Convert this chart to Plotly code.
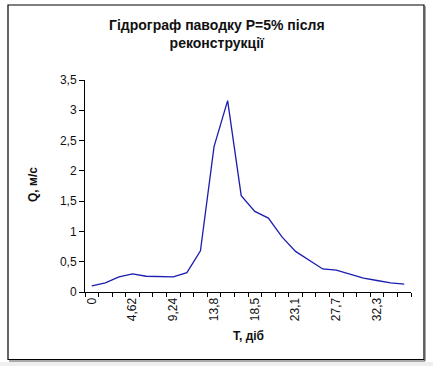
import plotly.graph_objects as go

# Data
days = [0, 1.54, 3.08, 4.62, 6.16, 7.70, 9.24, 10.78, 12.32, 13.86, 15.40, 16.94,
        18.48, 20.02, 21.56, 23.10, 24.64, 26.18, 27.72, 29.26, 30.80, 32.34, 33.88, 35.42]
q_values = [0.10, 0.15, 0.25, 0.30, 0.26, 0.25, 0.25, 0.32, 0.68, 2.40, 3.16, 1.59,
            1.33, 1.22, 0.91, 0.67, 0.52, 0.38, 0.36, 0.29, 0.23, 0.19, 0.15, 0.13]
tick_labels = ["0", "4,62", "9,24", "13,8", "18,5", "23,1", "27,7", "32,3"]
label_every = 3

title_text = "Гідрограф паводку Р=5% після<br>реконструкції"
x_title = "T, діб"
y_title = "Q, м/с"

W, H = 433, 366
L, R, T, B = 85, 411, 80, 292  # plot area pixel bounds

def px(x):
    return (x - L) / (R - L)

def py(y):
    return (B - y) / (B - T)

n = len(days)
idx = list(range(n))

fig = go.Figure()
fig.add_trace(go.Scatter(
    x=idx, y=q_values, mode="lines",
    line=dict(color="#1c1cb0", width=1.3),
    hoverinfo="x+y", showlegend=False,
))

font = "Liberation Sans, Arial, sans-serif"

fig.update_layout(
    width=W, height=H,
    margin=dict(l=L, r=W - R, t=T, b=H - B, pad=0),
    paper_bgcolor="white",
    plot_bgcolor="white",
    separators=", ",
    font=dict(family=font, size=12, color="#111"),
    xaxis=dict(
        range=[-0.5, n - 0.5],
        tickmode="array",
        tickvals=idx[::label_every],
        ticktext=tick_labels,
        ticks="",
        tickangle=-90,
        showgrid=False, zeroline=False,
        showline=True, linecolor="black", linewidth=1,
        tickfont=dict(size=12, family=font, color="#111"),
        minor=dict(tickmode="array", tickvals=[i - 0.5 for i in range(n + 1)],
                   ticks="outside", ticklen=4, tickcolor="black", tickwidth=1,
                   showgrid=False),
        fixedrange=True,
    ),
    yaxis=dict(
        range=[0, 3.5],
        tickmode="array",
        tickvals=[0, 0.5, 1, 1.5, 2, 2.5, 3, 3.5],
        tickformat=".1~f",
        ticks="outside", ticklen=5, tickcolor="black",
        showgrid=False, zeroline=False,
        showline=True, linecolor="black", linewidth=1,
        tickfont=dict(size=12, family=font, color="#111"),
        fixedrange=True,
    ),
    annotations=[
        dict(text="<b>" + title_text.replace("<br>", "</b><br><b>") + "</b>",
             x=px(217), y=py(34), xref="paper", yref="paper",
             xanchor="center", yanchor="middle", showarrow=False,
             font=dict(family=font, size=14, color="#111")),
        dict(text="<b>" + x_title + "</b>", x=px(248), y=py(336),
             xref="paper", yref="paper", xanchor="center", yanchor="middle",
             showarrow=False, font=dict(family=font, size=12, color="#111")),
        dict(text="<b>" + y_title + "</b>", x=px(33), y=py(185),
             xref="paper", yref="paper", xanchor="center", yanchor="middle",
             textangle=-90, showarrow=False,
             font=dict(family=font, size=12, color="#111")),
    ],
    shapes=[
        dict(type="rect", xref="paper", yref="paper",
             x0=px(0), x1=px(433), y0=py(362), y1=py(366),
             fillcolor="#efefef", line=dict(width=0), layer="below"),
        dict(type="rect", xref="paper", yref="paper",
             x0=px(8), x1=px(424), y0=py(359.5), y1=py(5),
             line=dict(color="black", width=1.2), fillcolor="rgba(0,0,0,0)"),
        dict(type="line", xref="paper", yref="paper",
             x0=px(425), x1=px(425), y0=py(6), y1=py(361),
             line=dict(color="#555", width=1)),
        dict(type="line", xref="paper", yref="paper",
             x0=px(9), x1=px(425), y0=py(361), y1=py(361),
             line=dict(color="#555", width=1)),
    ],
)

fig.write_html(
    "out.html",
    config={"displayModeBar": False, "staticPlot": True},
    post_script="document.body.style.margin='0px';document.body.style.overflow='hidden';",
)
